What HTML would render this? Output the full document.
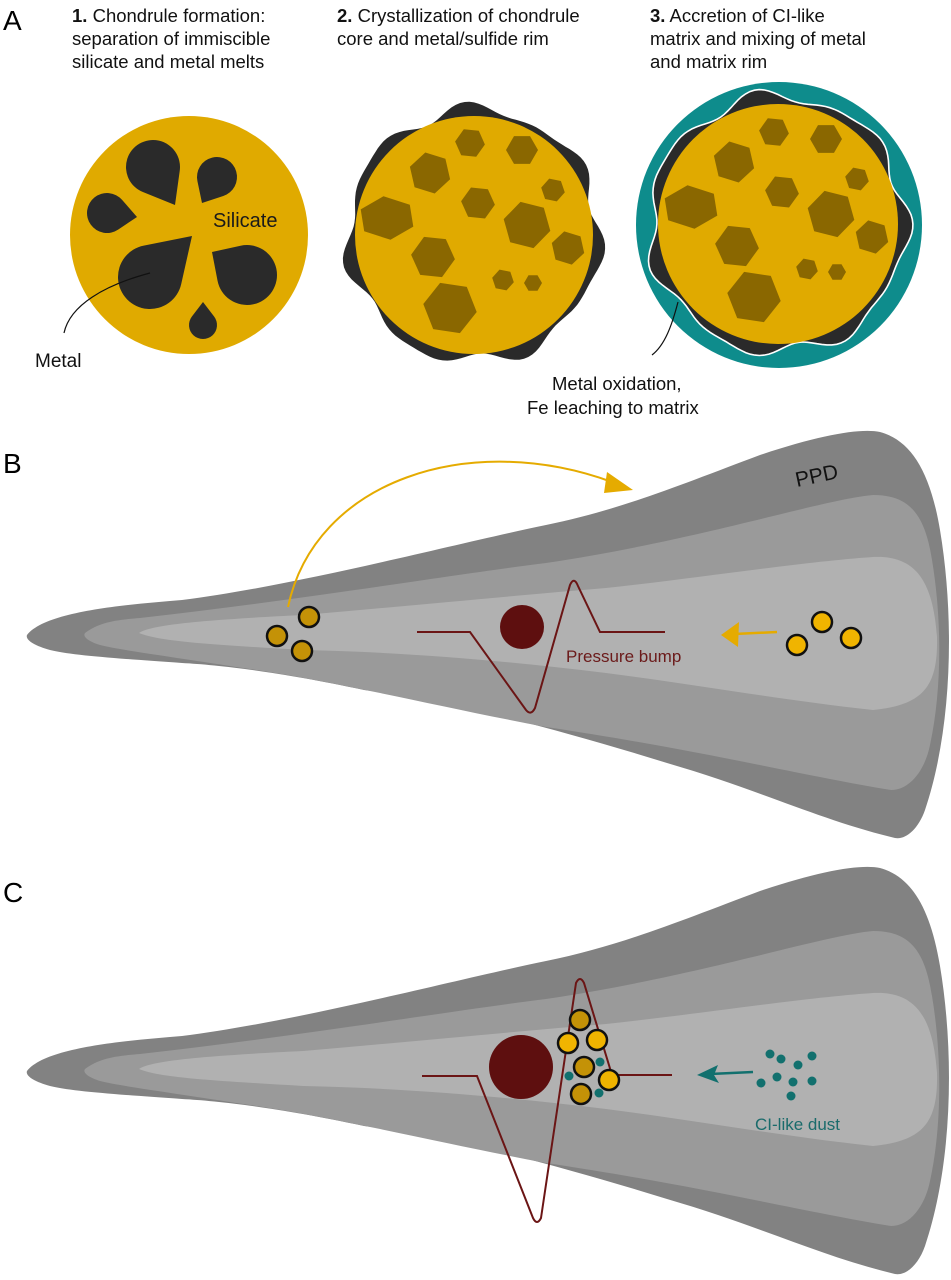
<!DOCTYPE html>
<html><head><meta charset="utf-8"><style>
html,body{margin:0;padding:0;background:#fff}
svg{display:block}
text{font-family:"Liberation Sans",sans-serif}
</style></head><body>
<svg id="s" width="951" height="1280" viewBox="0 0 951 1280" xmlns="http://www.w3.org/2000/svg">
<defs>
<g id="disk">
<path fill="#828282" d="M27,635 C45,612 120,605 182,600 C300,585 450,545 546,525 C620,510 680,485 760,455 C820,435 860,428 880,432 C910,440 930,470 940,530 C955,620 952,730 925,810 C918,830 905,840 895,838 C820,820 760,790 667,763 C560,730 450,700 364,690 C280,672 220,665 182,663 C110,658 70,655 50,650 C35,646 25,640 27,635 Z"/>
<path fill="#9a9a9a" d="M85,633 C100,622 115,620 140,618 C300,600 450,575 546,563 C700,540 820,500 873,495 C910,495 925,515 932,560 C942,620 942,690 930,745 C925,770 910,790 891,790 C800,775 700,750 546,727 C430,705 330,680 243,668 C160,655 120,650 100,645 C90,642 82,637 85,633 Z"/>
<path fill="#b1b1b1" d="M139,633 C150,625 200,620 303,615 C420,605 520,595 606,588 C700,578 800,562 873,557 C915,555 933,580 937,637 C938,685 925,705 873,710 C780,700 700,685 606,673 C500,660 400,652 303,650 C220,645 160,642 139,633 Z"/>
</g>
<g id="hexes"></g>
</defs>

<!-- Panel A text -->
<text x="3" y="30" font-size="28">A</text>
<g font-size="18.5" fill="#111">
<text x="72" y="22"><tspan font-weight="bold">1.</tspan> Chondrule formation:</text>
<text x="72" y="45">separation of immiscible</text>
<text x="72" y="68">silicate and metal melts</text>
<text x="337" y="22"><tspan font-weight="bold">2.</tspan> Crystallization of chondrule</text>
<text x="337" y="45">core and metal/sulfide rim</text>
<text x="650" y="22"><tspan font-weight="bold">3.</tspan> Accretion of CI-like</text>
<text x="650" y="45">matrix and mixing of metal</text>
<text x="650" y="68">and matrix rim</text>
</g>

<!-- Circle 1 -->
<circle cx="189" cy="235" r="119" fill="#e0aa00"/>
<g id="drops" fill="#2a2a2a"></g>
<text x="213" y="227" font-size="20" fill="#1a1a1a">Silicate</text>
<path d="M150,273 C105,285 70,305 64,333" fill="none" stroke="#111" stroke-width="1.2"/>
<text x="35" y="367" font-size="19" fill="#111">Metal</text>

<!-- Circle 2 -->
<path id="blob2" fill="#2a2a2a"/>
<circle cx="474" cy="235" r="119" fill="#e0aa00"/>
<use href="#hexes"/>

<!-- Circle 3 -->
<circle cx="779" cy="225" r="143" fill="#0e8c8c"/>
<path id="blob3" fill="#2a2a2a" stroke="#fff" stroke-width="1.6"/>
<circle cx="778" cy="224" r="120" fill="#e0aa00"/>
<use href="#hexes" transform="translate(304,-11)"/>
<path d="M678,302 C672,325 665,345 652,355" fill="none" stroke="#111" stroke-width="1.2"/>
<text x="552" y="390" font-size="18.5" fill="#111">Metal oxidation,</text>
<text x="527" y="414" font-size="18.5" fill="#111">Fe leaching to matrix</text>

<!-- Panel B -->
<text x="3" y="473" font-size="28">B</text>
<use href="#disk"/>
<text x="0" y="0" font-size="21" fill="#111" transform="translate(797,487) rotate(-12)">PPD</text>
<path d="M288,607 C315,480 470,430 612,482" fill="none" stroke="#e5ab00" stroke-width="2"/>
<polygon points="633,490 607,472 604,493" fill="#e5ab00"/>
<line x1="777" y1="632" x2="734" y2="634" stroke="#e5ab00" stroke-width="2.5"/>
<polygon points="721,635 739,622 738,647" fill="#e5ab00"/>
<g stroke="#111" stroke-width="2.5">
<circle cx="277" cy="636" r="10" fill="#c49207"/>
<circle cx="309" cy="617" r="10" fill="#c49207"/>
<circle cx="302" cy="651" r="10" fill="#c49207"/>
<circle cx="797" cy="645" r="10" fill="#f0b400"/>
<circle cx="822" cy="622" r="10" fill="#f0b400"/>
<circle cx="851" cy="638" r="10" fill="#f0b400"/>
</g>
<circle cx="522" cy="627" r="22" fill="#5e0f0f"/>
<path d="M417,632 L470,632 L526,710 Q531,716 535,708 L570,585 Q574,576 578,586 L600,632 L665,632" fill="none" stroke="#6b1515" stroke-width="2"/>
<text x="566" y="662" font-size="17" fill="#6b1a1a">Pressure bump</text>

<!-- Panel C -->
<text x="3" y="902" font-size="28">C</text>
<use href="#disk" transform="translate(0,436)"/>
<circle cx="521" cy="1067" r="32" fill="#5e0f0f"/>
<path d="M422,1076 L477,1076 L533,1218 Q537,1226 541,1218 L576,983 Q580,975 584,983 L612,1075 L672,1075" fill="none" stroke="#6b1515" stroke-width="2"/>
<g stroke="#111" stroke-width="2.5">
<circle cx="580" cy="1020" r="10" fill="#c49207"/>
<circle cx="568" cy="1043" r="10" fill="#f0b400"/>
<circle cx="597" cy="1040" r="10" fill="#f0b400"/>
<circle cx="584" cy="1067" r="10" fill="#c49207"/>
<circle cx="609" cy="1080" r="10" fill="#f0b400"/>
<circle cx="581" cy="1094" r="10" fill="#c49207"/>
</g>
<g fill="#12706e">
<circle cx="600" cy="1062" r="4.5"/><circle cx="569" cy="1076" r="4.5"/><circle cx="599" cy="1093" r="4.5"/>
<circle cx="770" cy="1054" r="4.5"/><circle cx="781" cy="1059" r="4.5"/><circle cx="798" cy="1065" r="4.5"/><circle cx="812" cy="1056" r="4.5"/>
<circle cx="761" cy="1083" r="4.5"/><circle cx="777" cy="1077" r="4.5"/><circle cx="793" cy="1082" r="4.5"/><circle cx="812" cy="1081" r="4.5"/><circle cx="791" cy="1096" r="4.5"/>
</g>
<line x1="753" y1="1072" x2="710" y2="1074" stroke="#12706e" stroke-width="2.5"/>
<polygon points="697,1075 718,1065 714,1075 719,1083" fill="#12706e"/>
<text x="755" y="1130" font-size="17" fill="#1a6b6b">CI-like dust</text>
</svg>
<script>
var NS="http://www.w3.org/2000/svg";
function el(p,tag,attrs){var e=document.createElementNS(NS,tag);for(var k in attrs)e.setAttribute(k,attrs[k]);p.appendChild(e);return e;}
// drops
var drops=[[153,167,27,175,205],[217,177,20,202,203],[107,213,20,137,217],[150,277,32,192,236],[247,275,30,212,252],[203,325,14,203,302]];
var dg=document.getElementById('drops');
drops.forEach(function(d){
 var cx=d[0],cy=d[1],r=d[2],tx=d[3],ty=d[4];
 var dx=tx-cx,dy=ty-cy,L=Math.sqrt(dx*dx+dy*dy),a=Math.atan2(dy,dx),b=Math.acos(Math.min(r/L,0.99));
 var p1=[cx+r*Math.cos(a+b),cy+r*Math.sin(a+b)],p2=[cx+r*Math.cos(a-b),cy+r*Math.sin(a-b)];
 el(dg,'path',{d:'M'+tx+','+ty+' L'+p1[0]+','+p1[1]+' A'+r+','+r+' 0 1 1 '+p2[0]+','+p2[1]+' Z'});
});
// hexes
var hx=[[430,173,21,0.3],[470,143,15,0.1],[522,150,16,0],[553,190,12,0.2],[387,218,22,0.4],[478,203,17,0.1],[527,225,24,0.25],[433,257,22,0.1],[568,248,17,0.3],[503,280,11,0.2],[533,283,9,0],[450,308,27,0.15]];
var hg=document.getElementById('hexes');
hx.forEach(function(h){var pts=[];for(var i=0;i<6;i++){var t=h[3]+i*Math.PI/3;var sx=(h[0]===387)?1.3:1;pts.push((h[0]+sx*h[2]*Math.cos(t)).toFixed(1)+','+(h[1]+h[2]*Math.sin(t)).toFixed(1));}
 el(hg,'polygon',{points:pts.join(' '),fill:'#8a6700'});});
function wavy(cx,cy,base,a1,a2,ph){var d='';for(var i=0;i<=180;i++){var t=i/180*2*Math.PI;var r=base+a1*Math.sin(7*t+ph)+a2*Math.sin(11*t+1+ph);var x=cx+r*Math.cos(t),y=cy+r*Math.sin(t);d+=(i?'L':'M')+x.toFixed(1)+','+y.toFixed(1);}return d+'Z';}
document.getElementById('blob2').setAttribute('d',wavy(474,235,126,5,3,0));
document.getElementById('blob3').setAttribute('d',wavy(778,224,128,5,3,1));
</script>
</body></html>
